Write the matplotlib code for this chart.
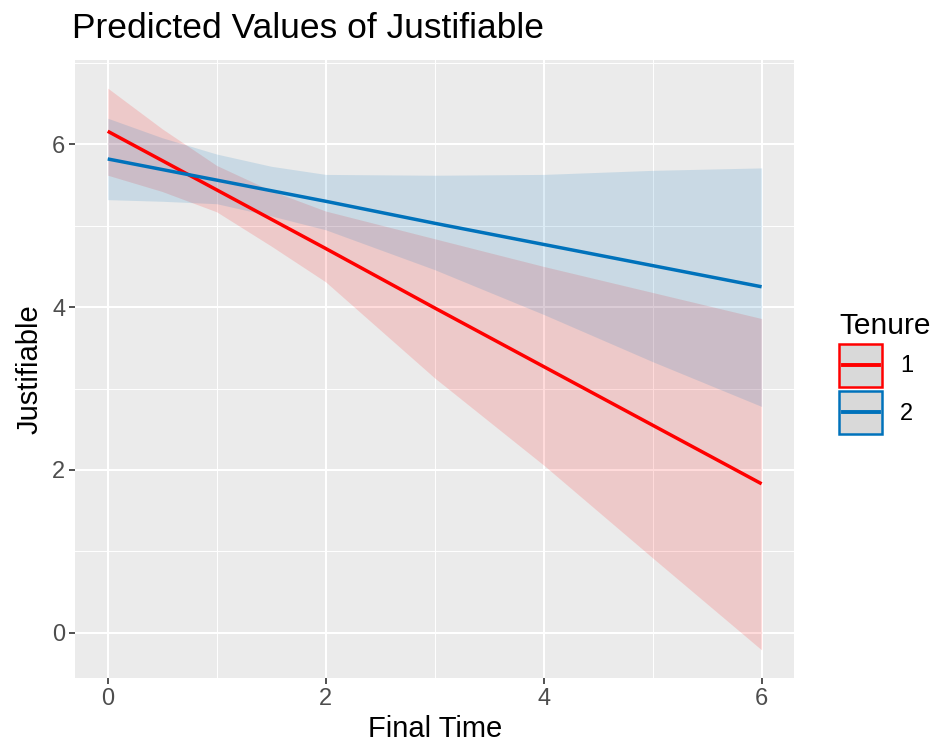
import matplotlib
matplotlib.use("Agg")
import numpy as np
import matplotlib.pyplot as plt
from matplotlib.patches import Patch
from matplotlib.lines import Line2D
from matplotlib.legend_handler import HandlerTuple, HandlerLine2D
from matplotlib.ticker import MultipleLocator

plt.rcParams['font.family'] = ['Liberation Sans', 'DejaVu Sans']

# ---- data ----
final_time = [0, 0.5, 1, 1.5, 2, 3, 4, 5, 6]

tenure1_pred = [6.16, 5.80, 5.44, 5.08, 4.72, 3.99, 3.27, 2.55, 1.83]
tenure1_high = [6.69, 6.19, 5.74, 5.43, 5.18, 4.84, 4.50, 4.18, 3.86]
tenure1_low = [5.62, 5.42, 5.17, 4.75, 4.31, 3.13, 2.06, 0.92, -0.21]

tenure2_pred = [5.82, 5.69, 5.56, 5.43, 5.30, 5.03, 4.77, 4.51, 4.25]
tenure2_high = [6.32, 6.08, 5.88, 5.73, 5.63, 5.62, 5.63, 5.68, 5.71]
tenure2_low = [5.32, 5.30, 5.27, 5.12, 4.95, 4.46, 3.91, 3.33, 2.78]

group_labels = ["1", "2"]
x_ticks = [0, 2, 4, 6]
y_ticks = [0, 2, 4, 6]

colors = ["#FF0000", "#0072BB"]


class CenteredLineHandler(HandlerLine2D):
    """Legend line centred vertically and inset inside the key box."""
    def create_artists(self, legend, orig_handle, xdescent, ydescent,
                       width, height, fontsize, trans):
        inset = 0.09 * width
        xdata = np.array([-xdescent + inset, -xdescent + width - inset])
        ydata = np.full_like(xdata, height / 2 - ydescent)
        line = Line2D(xdata, ydata)
        self.update_prop(line, orig_handle, legend)
        line.set_transform(trans)
        return [line]


fig = plt.figure(figsize=(9.4, 7.53), dpi=100)
ax = fig.add_axes([0.0798, 0.0996, 0.7652, 0.8207])
ax.set_facecolor("#EBEBEB")

series = [
    (tenure1_pred, tenure1_low, tenure1_high),
    (tenure2_pred, tenure2_low, tenure2_high),
]
handles = []
for (pred, lo, hi), col, lab in zip(series, colors, group_labels):
    ax.fill_between(final_time, lo, hi, color=col, alpha=0.14, linewidth=0, zorder=2)
for (pred, lo, hi), col, lab in zip(series, colors, group_labels):
    ax.plot(final_time, pred, color=col, linewidth=2.5, zorder=3, solid_capstyle='butt')
    handles.append((Patch(facecolor="#D9D9D9", edgecolor=col, linewidth=1.8),
                    Line2D([], [], color=col, linewidth=2.8)))

ax.set_xlim(-0.3, 6.3)
ax.set_ylim(-0.555, 7.035)
ax.set_xticks(x_ticks)
ax.set_yticks(y_ticks)
ax.xaxis.set_minor_locator(MultipleLocator(1))
ax.yaxis.set_minor_locator(MultipleLocator(1))
ax.grid(which='major', color='white', linewidth=1.5, zorder=1)
ax.grid(which='minor', color='white', linewidth=0.7, zorder=1)
ax.set_axisbelow(True)
for s in ax.spines.values():
    s.set_visible(False)
ax.tick_params(which='major', length=4, width=1.2, color='#333333',
               labelsize=17, labelcolor='#4D4D4D', pad=3)
ax.tick_params(which='minor', length=0)

ax.set_xlabel("Final Time", fontsize=21, color='black', labelpad=4)
ax.set_ylabel("Justifiable", fontsize=21, color='black', labelpad=6)
fig.text(0.077, 0.9495, "Predicted Values of Justifiable", fontsize=25.5,
         color='black', ha='left', va='baseline')

leg = ax.legend(handles, group_labels,
                handler_map={tuple: HandlerTuple(ndivide=1),
                             Line2D: CenteredLineHandler()},
                title="Tenure", loc='center left', bbox_to_anchor=(0.893, 0.505),
                bbox_transform=fig.transFigure, frameon=False, fontsize=17,
                title_fontsize=21.5, handlelength=1.82, handleheight=2.43,
                labelspacing=0.17, handletextpad=0.75, borderaxespad=0,
                borderpad=0)
leg._legend_box.align = "left"

fig.savefig("out.png", dpi=100)
